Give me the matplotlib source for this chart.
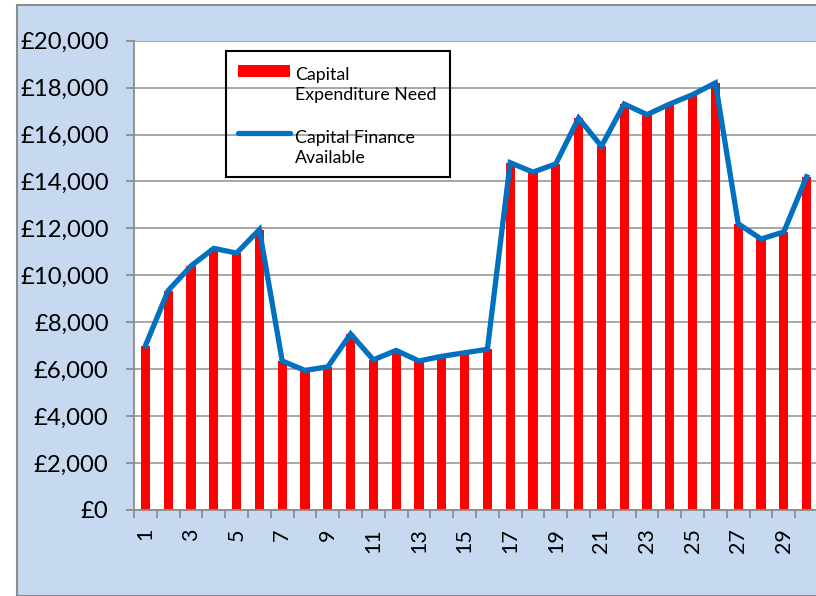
import matplotlib.pyplot as plt
from matplotlib.patches import Rectangle
from matplotlib.lines import Line2D

plt.rcParams['font.family'] = ['Lato', 'DejaVu Sans']

# data
years = list(range(1, 31))
expenditure_need = [7000, 9350, 10400, 11150, 10950, 11950, 6350, 5950, 6100, 7500,
                    6400, 6800, 6350, 6550, 6700, 6850, 14800, 14400, 14750, 16700,
                    15500, 17300, 16850, 17300, 17700, 18200, 12200, 11550, 11850, 14200]
finance_available = [7000, 9350, 10400, 11150, 10950, 11950, 6350, 5950, 6100, 7500,
                     6400, 6800, 6350, 6550, 6700, 6850, 14800, 14400, 14750, 16700,
                     15500, 17300, 16850, 17300, 17700, 18200, 12200, 11550, 11850, 14200]
y_ticks = list(range(0, 20001, 2000))
legend_labels = ['Capital\nExpenditure Need', 'Capital Finance\nAvailable']

BAR_RED = '#ff0000'
LINE_BLUE = '#0070c0'

W, H = 816, 596
fig = plt.figure(figsize=(W / 100, H / 100), dpi=100, facecolor='white')


def fx(x):
    return x / W


def fy(y):
    return 1 - y / H


# chart area background (cropped at right and bottom)
fig.patches.append(Rectangle((fx(17), 0), 1, fy(5), transform=fig.transFigure,
                             facecolor='#c6d9f0', edgecolor='#8c8c8c', linewidth=1.5, zorder=-1))

ax = fig.add_axes([fx(134), fy(510), 684 / W, 469.3 / H])
ax.set_facecolor('white')

ax.bar(years, expenditure_need, width=0.4, color=BAR_RED, zorder=2)
ax.plot(years, finance_available, color=LINE_BLUE, linewidth=3.8, zorder=3,
        solid_joinstyle='miter')

ax.set_xlim(0.5, 30.5)
ax.set_ylim(0, 20000)
ax.set_yticks(y_ticks)
ax.set_yticklabels(['£{:,}'.format(v) for v in y_ticks], fontsize=17.2)
ax.yaxis.grid(True, color='#a0a0a0', linewidth=1.3, zorder=0)

# tick marks between categories, labels on odd categories
ax.set_xticks([i + 0.5 for i in range(0, 31)])
ax.set_xticklabels([])
ax.set_xticks(years, minor=True)
ax.set_xticklabels([str(y) if y % 2 == 1 else '' for y in years], minor=True,
                   rotation=90, fontsize=15.5)
ax.tick_params(axis='x', which='minor', length=0, pad=13)
ax.tick_params(axis='x', which='major', length=5.8, color='#8c8c8c', width=1.3)
ax.tick_params(axis='y', length=5.8, color='#8c8c8c', width=1.3, pad=12.5)

for side in ['top', 'right']:
    ax.spines[side].set_visible(False)
for side in ['left', 'bottom']:
    ax.spines[side].set_color('#8c8c8c')
    ax.spines[side].set_linewidth(1.3)

# legend drawn by hand so the key sits on the first text line, as in Excel
fig.patches.append(Rectangle((fx(226), fy(177)), fx(450) - fx(226), fy(51) - fy(177),
                             transform=fig.transFigure, facecolor='none',
                             edgecolor='black', linewidth=1.5, zorder=5))
fig.patches.append(Rectangle((fx(238), fy(77)), fx(290) - fx(238), fy(65) - fy(77),
                             transform=fig.transFigure, facecolor=BAR_RED,
                             edgecolor='none', zorder=5))
fig.lines.append(Line2D([fx(238), fx(290)], [fy(133), fy(133)], transform=fig.transFigure,
                        color=LINE_BLUE, linewidth=3.8, solid_capstyle='round', zorder=5))
# baseline of a multi-line text is that of its last line
fig.text(fx(295), fy(100), legend_labels[0], fontsize=12.8, va='baseline',
         linespacing=1.3, zorder=6)
fig.text(fx(295), fy(163), legend_labels[1], fontsize=12.8, va='baseline',
         linespacing=1.3, zorder=6)

fig.savefig('out.png', dpi=100, facecolor=fig.get_facecolor())
